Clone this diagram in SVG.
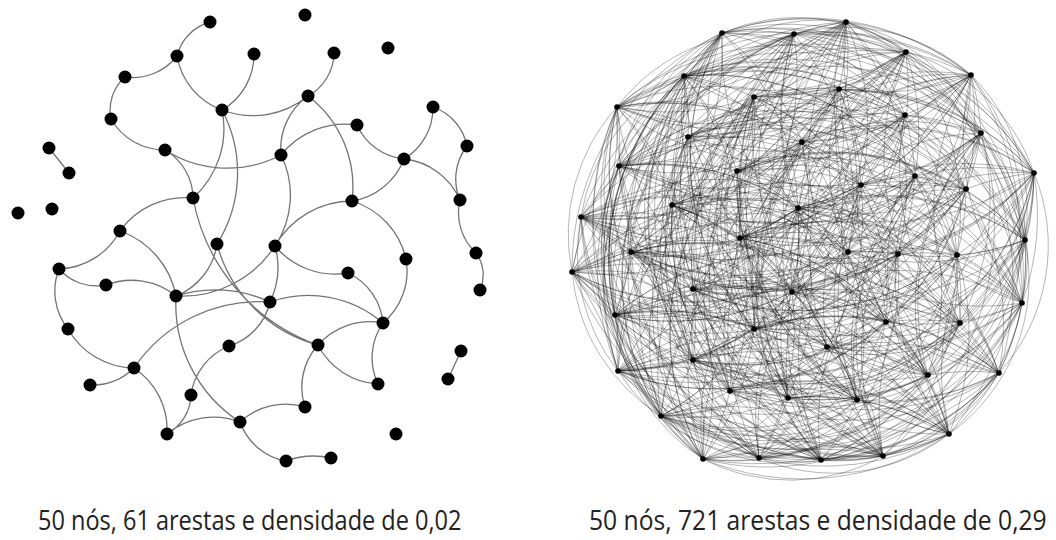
<svg xmlns="http://www.w3.org/2000/svg" width="1056" height="540" viewBox="0 0 1056 540">
<style>
.e{fill:none;stroke:#747474;stroke-width:1.3}
.n{fill:#000}
.f{fill:none;stroke:#000;stroke-opacity:.36;stroke-width:.8}
.m{fill:#000}
.t{font-family:"Open Sans","Noto Sans",sans-serif;font-size:28px;fill:#222}
</style>
<rect width="1056" height="540" fill="#fff"/>
<g id="left-edges">
<path class="e" d="M177 56A47 47 0 0 1 210 22M177 56A56 56 0 0 1 125 77M111 119A44 44 0 0 1 125 77M165 150A62 62 0 0 1 111 119M222 110A70 70 0 0 1 177 56M308 96A87 87 0 0 1 222 110M254 54A64 64 0 0 1 222 110M222 110A93 93 0 0 1 193 198M222 110A134 134 0 0 1 217 244M281 155A116 116 0 0 1 165 150M165 150A56 56 0 0 1 193 198M49 148L69 173M120 231A80 80 0 0 1 193 198M334 53A50 50 0 0 1 308 96M281 155A65 65 0 0 1 308 96M308 96A114 114 0 0 1 352 201M281 155A82 82 0 0 1 357 125M404 159A58 58 0 0 1 357 125M433 107A60 60 0 0 1 404 159M433 107A52 52 0 0 1 467 146M460 200A54 54 0 0 1 467 146M404 159A69 69 0 0 1 460 200M404 159A67 67 0 0 1 352 201M275 246A89 89 0 0 1 352 201M352 201A79 79 0 0 1 406 259M406 259A68 68 0 0 1 383 323M348 273A61 61 0 0 1 383 323M348 273A78 78 0 0 1 275 246M270 302A115 115 0 0 1 383 323M318 345A69 69 0 0 1 383 323M378 384A61 61 0 0 1 383 323M378 384A72 72 0 0 1 318 345M305 407A63 63 0 0 1 318 345M240 422A67 67 0 0 1 305 407M476 253A37 37 0 0 1 480 290M476 253A55 55 0 0 1 460 200M461 351L448 379M134 368A60 60 0 0 1 90 385M275 246A80 80 0 0 1 270 302M275 246A111 111 0 0 1 176 296M217 244A66 66 0 0 1 176 296M176 296A130 130 0 0 1 270 302M120 231A72 72 0 0 1 59 269M120 231A86 86 0 0 1 176 296M106 285A50 50 0 0 1 59 269M106 285A71 71 0 0 1 176 296M68 329A61 61 0 0 1 59 269M134 368A77 77 0 0 1 68 329M134 368A74 74 0 0 1 167 434M134 368A151 151 0 0 1 270 302M270 302A60 60 0 0 1 229 346M191 395A62 62 0 0 1 229 346M191 395A46 46 0 0 1 167 434M167 434A74 74 0 0 1 240 422M240 422A141 141 0 0 1 176 296M286 461A60 60 0 0 1 240 422M286 461A80 80 0 0 1 331 458M318 345A143 143 0 0 1 217 244M281 155A91 91 0 0 1 275 246M318 345A193 193 0 0 1 193 198"/>
</g>
<g id="left-nodes" class="n">
<g id="a1"><circle cx="210" cy="22" r="6.5"/></g>
<g id="a2"><circle cx="305" cy="15" r="6.5"/></g>
<g id="a3"><circle cx="177" cy="56" r="6.5"/></g>
<g id="a4"><circle cx="254" cy="54" r="6.5"/></g>
<g id="a5"><circle cx="334" cy="53" r="6.5"/></g>
<g id="a6"><circle cx="388" cy="48" r="6.5"/></g>
<g id="a7"><circle cx="125" cy="77" r="6.5"/></g>
<g id="a8"><circle cx="222" cy="110" r="6.5"/></g>
<g id="a9"><circle cx="308" cy="96" r="6.5"/></g>
<g id="a10"><circle cx="111" cy="119" r="6.5"/></g>
<g id="a11"><circle cx="433" cy="107" r="6.5"/></g>
<g id="a12"><circle cx="357" cy="125" r="6.5"/></g>
<g id="a13"><circle cx="49" cy="148" r="6.5"/></g>
<g id="a14"><circle cx="165" cy="150" r="6.5"/></g>
<g id="a15"><circle cx="281" cy="155" r="6.5"/></g>
<g id="a16"><circle cx="467" cy="146" r="6.5"/></g>
<g id="a17"><circle cx="69" cy="173" r="6.5"/></g>
<g id="a18"><circle cx="404" cy="159" r="6.5"/></g>
<g id="a19"><circle cx="18" cy="213" r="6.5"/></g>
<g id="a20"><circle cx="52" cy="209" r="6.5"/></g>
<g id="a21"><circle cx="193" cy="198" r="6.5"/></g>
<g id="a22"><circle cx="352" cy="201" r="6.5"/></g>
<g id="a23"><circle cx="460" cy="200" r="6.5"/></g>
<g id="a24"><circle cx="120" cy="231" r="6.5"/></g>
<g id="a25"><circle cx="217" cy="244" r="6.5"/></g>
<g id="a26"><circle cx="275" cy="246" r="6.5"/></g>
<g id="a27"><circle cx="406" cy="259" r="6.5"/></g>
<g id="a28"><circle cx="59" cy="269" r="6.5"/></g>
<g id="a29"><circle cx="476" cy="253" r="6.5"/></g>
<g id="a30"><circle cx="106" cy="285" r="6.5"/></g>
<g id="a31"><circle cx="176" cy="296" r="6.5"/></g>
<g id="a32"><circle cx="348" cy="273" r="6.5"/></g>
<g id="a33"><circle cx="480" cy="290" r="6.5"/></g>
<g id="a34"><circle cx="270" cy="302" r="6.5"/></g>
<g id="a35"><circle cx="68" cy="329" r="6.5"/></g>
<g id="a36"><circle cx="383" cy="323" r="6.5"/></g>
<g id="a37"><circle cx="229" cy="346" r="6.5"/></g>
<g id="a38"><circle cx="318" cy="345" r="6.5"/></g>
<g id="a39"><circle cx="461" cy="351" r="6.5"/></g>
<g id="a40"><circle cx="134" cy="368" r="6.5"/></g>
<g id="a41"><circle cx="90" cy="385" r="6.5"/></g>
<g id="a42"><circle cx="448" cy="379" r="6.5"/></g>
<g id="a43"><circle cx="378" cy="384" r="6.5"/></g>
<g id="a44"><circle cx="191" cy="395" r="6.5"/></g>
<g id="a45"><circle cx="305" cy="407" r="6.5"/></g>
<g id="a46"><circle cx="167" cy="434" r="6.5"/></g>
<g id="a47"><circle cx="240" cy="422" r="6.5"/></g>
<g id="a48"><circle cx="396" cy="434" r="6.5"/></g>
<g id="a49"><circle cx="286" cy="461" r="6.5"/></g>
<g id="a50"><circle cx="331" cy="458" r="6.5"/></g>
</g>
<g id="right-edges" class="f">
<path d="M722 33A260 260 0 0 1 794 34A260 260 0 0 1 846 22A260 260 0 0 1 906 52A260 260 0 0 1 971 75A260 260 0 0 1 684 76A260 260 0 0 1 754 97A260 260 0 0 1 839 89A260 260 0 0 1 617 107A260 260 0 0 1 905 115A260 260 0 0 1 688 137A260 260 0 0 1 802 142A260 260 0 0 1 981 133A260 260 0 0 1 619 166A260 260 0 0 1 737 171A260 260 0 0 1 861 185A260 260 0 0 1 915 176A260 260 0 0 1 966 189A260 260 0 0 1 1034 173A260 260 0 0 1 672 205A260 260 0 0 1 581 217A260 260 0 0 1 798 208A260 260 0 0 1 740 238A260 260 0 0 1 1025 240A260 260 0 0 1 848 252A260 260 0 0 1 898 254A260 260 0 0 1 957 255A260 260 0 0 1 572 272A260 260 0 0 1 631 252A260 260 0 0 1 693 289A260 260 0 0 1 792 292A260 260 0 0 1 1022 303A260 260 0 0 1 615 315A260 260 0 0 1 754 329A260 260 0 0 1 886 322A260 260 0 0 1 960 323A260 260 0 0 1 827 347A260 260 0 0 1 693 360A260 260 0 0 1 618 371A260 260 0 0 1 928 375A260 260 0 0 1 999 373A260 260 0 0 1 730 391A260 260 0 0 1 788 398A260 260 0 0 1 857 400A260 260 0 0 1 661 416A260 260 0 0 1 949 434A260 260 0 0 1 703 459A260 260 0 0 1 759 458A260 260 0 0 1 821 460A260 260 0 0 1 883 456A260 260 0 0 1 722 33"/>
<path d="M722 33A260 260 0 0 1 846 22A260 260 0 0 1 971 75A260 260 0 0 1 754 97A260 260 0 0 1 617 107A260 260 0 0 1 688 137A260 260 0 0 1 981 133A260 260 0 0 1 737 171A260 260 0 0 1 915 176A260 260 0 0 1 1034 173A260 260 0 0 1 581 217A260 260 0 0 1 740 238A260 260 0 0 1 848 252A260 260 0 0 1 957 255A260 260 0 0 1 631 252A260 260 0 0 1 792 292A260 260 0 0 1 615 315A260 260 0 0 1 886 322A260 260 0 0 1 827 347A260 260 0 0 1 618 371A260 260 0 0 1 999 373A260 260 0 0 1 788 398A260 260 0 0 1 661 416A260 260 0 0 1 703 459A260 260 0 0 1 821 460A260 260 0 0 1 722 33M794 34A260 260 0 0 1 906 52A260 260 0 0 1 684 76A260 260 0 0 1 839 89A260 260 0 0 1 905 115A260 260 0 0 1 802 142A260 260 0 0 1 619 166A260 260 0 0 1 861 185A260 260 0 0 1 966 189A260 260 0 0 1 672 205A260 260 0 0 1 798 208A260 260 0 0 1 1025 240A260 260 0 0 1 898 254A260 260 0 0 1 572 272A260 260 0 0 1 693 289A260 260 0 0 1 1022 303A260 260 0 0 1 754 329A260 260 0 0 1 960 323A260 260 0 0 1 693 360A260 260 0 0 1 928 375A260 260 0 0 1 730 391A260 260 0 0 1 857 400A260 260 0 0 1 949 434A260 260 0 0 1 759 458A260 260 0 0 1 883 456A260 260 0 0 1 794 34"/>
<path d="M722 33A260 260 0 0 1 906 52A260 260 0 0 1 754 97A260 260 0 0 1 905 115A260 260 0 0 1 981 133A260 260 0 0 1 861 185A260 260 0 0 1 1034 173A260 260 0 0 1 798 208A260 260 0 0 1 848 252A260 260 0 0 1 572 272A260 260 0 0 1 792 292A260 260 0 0 1 754 329A260 260 0 0 1 827 347A260 260 0 0 1 928 375A260 260 0 0 1 788 398A260 260 0 0 1 949 434A260 260 0 0 1 821 460A260 260 0 0 1 794 34A260 260 0 0 1 971 75A260 260 0 0 1 839 89A260 260 0 0 1 688 137A260 260 0 0 1 619 166A260 260 0 0 1 915 176A260 260 0 0 1 672 205A260 260 0 0 1 740 238A260 260 0 0 1 898 254A260 260 0 0 1 631 252A260 260 0 0 1 1022 303A260 260 0 0 1 886 322A260 260 0 0 1 693 360A260 260 0 0 1 999 373A260 260 0 0 1 857 400A260 260 0 0 1 703 459A260 260 0 0 1 883 456A260 260 0 0 1 846 22A260 260 0 0 1 684 76A260 260 0 0 1 617 107A260 260 0 0 1 802 142A260 260 0 0 1 737 171A260 260 0 0 1 966 189A260 260 0 0 1 581 217A260 260 0 0 1 1025 240A260 260 0 0 1 957 255A260 260 0 0 1 693 289A260 260 0 0 1 615 315A260 260 0 0 1 960 323A260 260 0 0 1 618 371A260 260 0 0 1 730 391A260 260 0 0 1 661 416A260 260 0 0 1 759 458A260 260 0 0 1 722 33"/>
<path d="M722 33A260 260 0 0 1 971 75A260 260 0 0 1 617 107A260 260 0 0 1 981 133A260 260 0 0 1 915 176A260 260 0 0 1 581 217A260 260 0 0 1 848 252A260 260 0 0 1 631 252A260 260 0 0 1 615 315A260 260 0 0 1 827 347A260 260 0 0 1 999 373A260 260 0 0 1 661 416A260 260 0 0 1 821 460A260 260 0 0 1 846 22A260 260 0 0 1 754 97A260 260 0 0 1 688 137A260 260 0 0 1 737 171A260 260 0 0 1 1034 173A260 260 0 0 1 740 238A260 260 0 0 1 957 255A260 260 0 0 1 792 292A260 260 0 0 1 886 322A260 260 0 0 1 618 371A260 260 0 0 1 788 398A260 260 0 0 1 703 459A260 260 0 0 1 722 33M794 34A260 260 0 0 1 684 76A260 260 0 0 1 905 115A260 260 0 0 1 619 166A260 260 0 0 1 966 189A260 260 0 0 1 798 208A260 260 0 0 1 898 254A260 260 0 0 1 693 289A260 260 0 0 1 754 329A260 260 0 0 1 693 360A260 260 0 0 1 730 391A260 260 0 0 1 949 434A260 260 0 0 1 883 456A260 260 0 0 1 906 52A260 260 0 0 1 839 89A260 260 0 0 1 802 142A260 260 0 0 1 861 185A260 260 0 0 1 672 205A260 260 0 0 1 1025 240A260 260 0 0 1 572 272A260 260 0 0 1 1022 303A260 260 0 0 1 960 323A260 260 0 0 1 928 375A260 260 0 0 1 857 400A260 260 0 0 1 759 458A260 260 0 0 1 794 34"/>
<path d="M722 33A260 260 0 0 1 684 76A260 260 0 0 1 688 137A260 260 0 0 1 861 185A260 260 0 0 1 581 217A260 260 0 0 1 898 254A260 260 0 0 1 792 292A260 260 0 0 1 960 323A260 260 0 0 1 999 373A260 260 0 0 1 949 434A260 260 0 0 1 722 33M794 34A260 260 0 0 1 754 97A260 260 0 0 1 802 142A260 260 0 0 1 915 176A260 260 0 0 1 798 208A260 260 0 0 1 957 255A260 260 0 0 1 1022 303A260 260 0 0 1 827 347A260 260 0 0 1 730 391A260 260 0 0 1 703 459A260 260 0 0 1 794 34M846 22A260 260 0 0 1 839 89A260 260 0 0 1 981 133A260 260 0 0 1 966 189A260 260 0 0 1 740 238A260 260 0 0 1 572 272A260 260 0 0 1 615 315A260 260 0 0 1 693 360A260 260 0 0 1 788 398A260 260 0 0 1 759 458A260 260 0 0 1 846 22M906 52A260 260 0 0 1 617 107A260 260 0 0 1 619 166A260 260 0 0 1 1034 173A260 260 0 0 1 1025 240A260 260 0 0 1 631 252A260 260 0 0 1 754 329A260 260 0 0 1 618 371A260 260 0 0 1 857 400A260 260 0 0 1 821 460A260 260 0 0 1 906 52M971 75A260 260 0 0 1 905 115A260 260 0 0 1 737 171A260 260 0 0 1 672 205A260 260 0 0 1 848 252A260 260 0 0 1 693 289A260 260 0 0 1 886 322A260 260 0 0 1 928 375A260 260 0 0 1 661 416A260 260 0 0 1 883 456A260 260 0 0 1 971 75"/>
<path d="M722 33A260 260 0 0 1 839 89A260 260 0 0 1 737 171A260 260 0 0 1 798 208A260 260 0 0 1 631 252A260 260 0 0 1 960 323A260 260 0 0 1 788 398A260 260 0 0 1 883 456A260 260 0 0 1 754 97A260 260 0 0 1 619 166A260 260 0 0 1 581 217A260 260 0 0 1 572 272A260 260 0 0 1 886 322A260 260 0 0 1 730 391A260 260 0 0 1 821 460A260 260 0 0 1 684 76A260 260 0 0 1 981 133A260 260 0 0 1 672 205A260 260 0 0 1 957 255A260 260 0 0 1 754 329A260 260 0 0 1 999 373A260 260 0 0 1 759 458A260 260 0 0 1 971 75A260 260 0 0 1 802 142A260 260 0 0 1 1034 173A260 260 0 0 1 898 254A260 260 0 0 1 615 315A260 260 0 0 1 928 375A260 260 0 0 1 703 459A260 260 0 0 1 906 52A260 260 0 0 1 688 137A260 260 0 0 1 966 189A260 260 0 0 1 848 252A260 260 0 0 1 1022 303A260 260 0 0 1 618 371A260 260 0 0 1 949 434A260 260 0 0 1 846 22A260 260 0 0 1 905 115A260 260 0 0 1 915 176A260 260 0 0 1 1025 240A260 260 0 0 1 792 292A260 260 0 0 1 693 360A260 260 0 0 1 661 416A260 260 0 0 1 794 34A260 260 0 0 1 617 107A260 260 0 0 1 861 185A260 260 0 0 1 740 238A260 260 0 0 1 693 289A260 260 0 0 1 827 347A260 260 0 0 1 857 400A260 260 0 0 1 722 33"/>
<path d="M722 33A260 260 0 0 1 905 115A260 260 0 0 1 1034 173A260 260 0 0 1 572 272A260 260 0 0 1 827 347A260 260 0 0 1 949 434A260 260 0 0 1 971 75A260 260 0 0 1 619 166A260 260 0 0 1 740 238A260 260 0 0 1 1022 303A260 260 0 0 1 999 373A260 260 0 0 1 883 456A260 260 0 0 1 617 107A260 260 0 0 1 966 189A260 260 0 0 1 957 255A260 260 0 0 1 960 323A260 260 0 0 1 661 416A260 260 0 0 1 906 52A260 260 0 0 1 981 133A260 260 0 0 1 798 208A260 260 0 0 1 792 292A260 260 0 0 1 928 375A260 260 0 0 1 821 460A260 260 0 0 1 839 89A260 260 0 0 1 915 176A260 260 0 0 1 898 254A260 260 0 0 1 886 322A260 260 0 0 1 857 400A260 260 0 0 1 846 22A260 260 0 0 1 802 142A260 260 0 0 1 581 217A260 260 0 0 1 693 289A260 260 0 0 1 618 371A260 260 0 0 1 759 458A260 260 0 0 1 754 97A260 260 0 0 1 861 185A260 260 0 0 1 848 252A260 260 0 0 1 754 329A260 260 0 0 1 788 398A260 260 0 0 1 794 34A260 260 0 0 1 688 137A260 260 0 0 1 672 205A260 260 0 0 1 631 252A260 260 0 0 1 693 360A260 260 0 0 1 703 459A260 260 0 0 1 684 76A260 260 0 0 1 737 171A260 260 0 0 1 1025 240A260 260 0 0 1 615 315A260 260 0 0 1 730 391A260 260 0 0 1 722 33"/>
<path d="M722 33A260 260 0 0 1 802 142A260 260 0 0 1 740 238A260 260 0 0 1 754 329A260 260 0 0 1 661 416A260 260 0 0 1 684 76A260 260 0 0 1 915 176A260 260 0 0 1 572 272A260 260 0 0 1 618 371A260 260 0 0 1 883 456A260 260 0 0 1 688 137A260 260 0 0 1 798 208A260 260 0 0 1 615 315A260 260 0 0 1 857 400A260 260 0 0 1 971 75A260 260 0 0 1 861 185A260 260 0 0 1 957 255A260 260 0 0 1 693 360A260 260 0 0 1 821 460A260 260 0 0 1 905 115A260 260 0 0 1 581 217A260 260 0 0 1 1022 303A260 260 0 0 1 788 398A260 260 0 0 1 906 52A260 260 0 0 1 737 171A260 260 0 0 1 898 254A260 260 0 0 1 827 347A260 260 0 0 1 759 458A260 260 0 0 1 617 107A260 260 0 0 1 672 205A260 260 0 0 1 792 292A260 260 0 0 1 730 391A260 260 0 0 1 846 22A260 260 0 0 1 619 166A260 260 0 0 1 848 252A260 260 0 0 1 960 323A260 260 0 0 1 703 459A260 260 0 0 1 839 89A260 260 0 0 1 1034 173A260 260 0 0 1 693 289A260 260 0 0 1 999 373A260 260 0 0 1 794 34A260 260 0 0 1 981 133A260 260 0 0 1 1025 240A260 260 0 0 1 886 322A260 260 0 0 1 949 434A260 260 0 0 1 754 97A260 260 0 0 1 966 189A260 260 0 0 1 631 252A260 260 0 0 1 928 375A260 260 0 0 1 722 33"/>
<path d="M722 33A260 260 0 0 1 619 166A260 260 0 0 1 957 255A260 260 0 0 1 928 375A260 260 0 0 1 846 22A260 260 0 0 1 861 185A260 260 0 0 1 631 252A260 260 0 0 1 730 391A260 260 0 0 1 971 75A260 260 0 0 1 966 189A260 260 0 0 1 792 292A260 260 0 0 1 857 400A260 260 0 0 1 754 97A260 260 0 0 1 672 205A260 260 0 0 1 615 315A260 260 0 0 1 949 434A260 260 0 0 1 617 107A260 260 0 0 1 798 208A260 260 0 0 1 886 322A260 260 0 0 1 759 458A260 260 0 0 1 688 137A260 260 0 0 1 1025 240A260 260 0 0 1 827 347A260 260 0 0 1 883 456A260 260 0 0 1 981 133A260 260 0 0 1 898 254A260 260 0 0 1 618 371A260 260 0 0 1 794 34A260 260 0 0 1 737 171A260 260 0 0 1 572 272A260 260 0 0 1 999 373A260 260 0 0 1 906 52A260 260 0 0 1 915 176A260 260 0 0 1 693 289A260 260 0 0 1 788 398A260 260 0 0 1 684 76A260 260 0 0 1 1034 173A260 260 0 0 1 1022 303A260 260 0 0 1 661 416A260 260 0 0 1 839 89A260 260 0 0 1 581 217A260 260 0 0 1 754 329A260 260 0 0 1 703 459A260 260 0 0 1 905 115A260 260 0 0 1 740 238A260 260 0 0 1 960 323A260 260 0 0 1 821 460A260 260 0 0 1 802 142A260 260 0 0 1 848 252A260 260 0 0 1 693 360A260 260 0 0 1 722 33"/>
<path d="M722 33A260 260 0 0 1 966 189A260 260 0 0 1 886 322A260 260 0 0 1 794 34A260 260 0 0 1 1034 173A260 260 0 0 1 960 323A260 260 0 0 1 846 22A260 260 0 0 1 672 205A260 260 0 0 1 827 347A260 260 0 0 1 906 52A260 260 0 0 1 581 217A260 260 0 0 1 693 360A260 260 0 0 1 971 75A260 260 0 0 1 798 208A260 260 0 0 1 618 371A260 260 0 0 1 684 76A260 260 0 0 1 740 238A260 260 0 0 1 928 375A260 260 0 0 1 754 97A260 260 0 0 1 1025 240A260 260 0 0 1 999 373A260 260 0 0 1 839 89A260 260 0 0 1 848 252A260 260 0 0 1 730 391A260 260 0 0 1 617 107A260 260 0 0 1 898 254A260 260 0 0 1 788 398A260 260 0 0 1 905 115A260 260 0 0 1 957 255A260 260 0 0 1 857 400A260 260 0 0 1 688 137A260 260 0 0 1 572 272A260 260 0 0 1 661 416A260 260 0 0 1 802 142A260 260 0 0 1 631 252A260 260 0 0 1 949 434A260 260 0 0 1 981 133A260 260 0 0 1 693 289A260 260 0 0 1 703 459A260 260 0 0 1 619 166A260 260 0 0 1 792 292A260 260 0 0 1 759 458A260 260 0 0 1 737 171A260 260 0 0 1 1022 303A260 260 0 0 1 821 460A260 260 0 0 1 861 185A260 260 0 0 1 615 315A260 260 0 0 1 883 456A260 260 0 0 1 915 176A260 260 0 0 1 754 329A260 260 0 0 1 722 33"/>
<path d="M722 33A260 260 0 0 1 672 205A260 260 0 0 1 618 371A260 260 0 0 1 839 89A260 260 0 0 1 957 255A260 260 0 0 1 949 434A260 260 0 0 1 737 171A260 260 0 0 1 754 329A260 260 0 0 1 846 22A260 260 0 0 1 798 208A260 260 0 0 1 999 373A260 260 0 0 1 905 115A260 260 0 0 1 631 252A260 260 0 0 1 759 458A260 260 0 0 1 915 176A260 260 0 0 1 960 323A260 260 0 0 1 971 75A260 260 0 0 1 1025 240A260 260 0 0 1 788 398A260 260 0 0 1 802 142A260 260 0 0 1 792 292A260 260 0 0 1 883 456A260 260 0 0 1 1034 173A260 260 0 0 1 693 360A260 260 0 0 1 754 97A260 260 0 0 1 898 254A260 260 0 0 1 661 416A260 260 0 0 1 619 166A260 260 0 0 1 615 315A260 260 0 0 1 794 34A260 260 0 0 1 581 217A260 260 0 0 1 928 375A260 260 0 0 1 617 107A260 260 0 0 1 572 272A260 260 0 0 1 703 459A260 260 0 0 1 861 185A260 260 0 0 1 886 322A260 260 0 0 1 906 52A260 260 0 0 1 740 238A260 260 0 0 1 730 391A260 260 0 0 1 688 137A260 260 0 0 1 693 289A260 260 0 0 1 821 460A260 260 0 0 1 966 189A260 260 0 0 1 827 347A260 260 0 0 1 684 76A260 260 0 0 1 848 252A260 260 0 0 1 857 400A260 260 0 0 1 981 133A260 260 0 0 1 1022 303A260 260 0 0 1 722 33"/>
<path d="M722 33A260 260 0 0 1 798 208A260 260 0 0 1 788 398A260 260 0 0 1 619 166A260 260 0 0 1 886 322A260 260 0 0 1 684 76A260 260 0 0 1 957 255A260 260 0 0 1 759 458A260 260 0 0 1 1034 173A260 260 0 0 1 928 375A260 260 0 0 1 688 137A260 260 0 0 1 1022 303A260 260 0 0 1 846 22A260 260 0 0 1 1025 240A260 260 0 0 1 661 416A260 260 0 0 1 861 185A260 260 0 0 1 827 347A260 260 0 0 1 839 89A260 260 0 0 1 631 252A260 260 0 0 1 883 456A260 260 0 0 1 581 217A260 260 0 0 1 730 391A260 260 0 0 1 981 133A260 260 0 0 1 754 329A260 260 0 0 1 971 75A260 260 0 0 1 898 254A260 260 0 0 1 703 459A260 260 0 0 1 966 189A260 260 0 0 1 618 371A260 260 0 0 1 905 115A260 260 0 0 1 792 292A260 260 0 0 1 794 34A260 260 0 0 1 740 238A260 260 0 0 1 857 400A260 260 0 0 1 737 171A260 260 0 0 1 960 323A260 260 0 0 1 754 97A260 260 0 0 1 572 272A260 260 0 0 1 821 460A260 260 0 0 1 672 205A260 260 0 0 1 999 373A260 260 0 0 1 802 142A260 260 0 0 1 615 315A260 260 0 0 1 906 52A260 260 0 0 1 848 252A260 260 0 0 1 949 434A260 260 0 0 1 915 176A260 260 0 0 1 693 360A260 260 0 0 1 617 107A260 260 0 0 1 693 289A260 260 0 0 1 722 33"/>
<path d="M722 33A260 260 0 0 1 1025 240A260 260 0 0 1 703 459A260 260 0 0 1 672 205A260 260 0 0 1 788 398A260 260 0 0 1 861 185A260 260 0 0 1 618 371A260 260 0 0 1 802 142A260 260 0 0 1 886 322A260 260 0 0 1 839 89A260 260 0 0 1 792 292A260 260 0 0 1 906 52A260 260 0 0 1 957 255A260 260 0 0 1 883 456A260 260 0 0 1 740 238A260 260 0 0 1 949 434A260 260 0 0 1 1034 173A260 260 0 0 1 730 391A260 260 0 0 1 737 171A260 260 0 0 1 693 360A260 260 0 0 1 688 137A260 260 0 0 1 754 329A260 260 0 0 1 754 97A260 260 0 0 1 693 289A260 260 0 0 1 846 22A260 260 0 0 1 898 254A260 260 0 0 1 821 460A260 260 0 0 1 798 208A260 260 0 0 1 661 416A260 260 0 0 1 966 189A260 260 0 0 1 999 373A260 260 0 0 1 619 166A260 260 0 0 1 827 347A260 260 0 0 1 905 115A260 260 0 0 1 615 315A260 260 0 0 1 684 76A260 260 0 0 1 631 252A260 260 0 0 1 794 34A260 260 0 0 1 848 252A260 260 0 0 1 759 458A260 260 0 0 1 581 217A260 260 0 0 1 857 400A260 260 0 0 1 915 176A260 260 0 0 1 928 375A260 260 0 0 1 981 133A260 260 0 0 1 960 323A260 260 0 0 1 617 107A260 260 0 0 1 1022 303A260 260 0 0 1 971 75A260 260 0 0 1 572 272A260 260 0 0 1 722 33"/>
<path d="M722 33A260 260 0 0 1 617 107A260 260 0 0 1 915 176A260 260 0 0 1 848 252A260 260 0 0 1 615 315A260 260 0 0 1 999 373A260 260 0 0 1 821 460A260 260 0 0 1 754 97A260 260 0 0 1 737 171A260 260 0 0 1 740 238A260 260 0 0 1 792 292A260 260 0 0 1 618 371A260 260 0 0 1 703 459A260 260 0 0 1 971 75A260 260 0 0 1 981 133A260 260 0 0 1 581 217A260 260 0 0 1 631 252A260 260 0 0 1 827 347A260 260 0 0 1 661 416A260 260 0 0 1 846 22A260 260 0 0 1 688 137A260 260 0 0 1 1034 173A260 260 0 0 1 957 255A260 260 0 0 1 886 322A260 260 0 0 1 788 398A260 260 0 0 1 722 33M794 34A260 260 0 0 1 905 115A260 260 0 0 1 966 189A260 260 0 0 1 898 254A260 260 0 0 1 754 329A260 260 0 0 1 730 391A260 260 0 0 1 883 456A260 260 0 0 1 839 89A260 260 0 0 1 861 185A260 260 0 0 1 1025 240A260 260 0 0 1 1022 303A260 260 0 0 1 928 375A260 260 0 0 1 759 458A260 260 0 0 1 684 76A260 260 0 0 1 619 166A260 260 0 0 1 798 208A260 260 0 0 1 693 289A260 260 0 0 1 693 360A260 260 0 0 1 949 434A260 260 0 0 1 906 52A260 260 0 0 1 802 142A260 260 0 0 1 672 205A260 260 0 0 1 572 272A260 260 0 0 1 960 323A260 260 0 0 1 857 400A260 260 0 0 1 794 34"/>
<path d="M846 22A190 190 0 0 1 981 133M906 52A190 190 0 0 1 1034 173M971 75A190 190 0 0 1 1025 240M981 133A190 190 0 0 1 1022 303M1034 173A190 190 0 0 1 999 373M1025 240A190 190 0 0 1 949 434M1022 303A190 190 0 0 1 883 456M999 373A190 190 0 0 1 821 460M949 434A190 190 0 0 1 759 458M883 456A190 190 0 0 1 703 459M821 460A190 190 0 0 1 661 416M759 458A190 190 0 0 1 618 371M703 459A190 190 0 0 1 615 315M661 416A190 190 0 0 1 572 272M618 371A190 190 0 0 1 581 217M615 315A190 190 0 0 1 619 166M572 272A190 190 0 0 1 617 107M581 217A190 190 0 0 1 684 76M619 166A190 190 0 0 1 722 33M617 107A190 190 0 0 1 794 34M684 76A190 190 0 0 1 846 22M722 33A190 190 0 0 1 906 52M794 34A190 190 0 0 1 971 75"/>
<path d="M846 22A300 300 0 0 1 1022 303M906 52A300 300 0 0 1 999 373M971 75A300 300 0 0 1 949 434M981 133A300 300 0 0 1 883 456M1034 173A300 300 0 0 1 821 460M1025 240A300 300 0 0 1 759 458M1022 303A300 300 0 0 1 703 459M999 373A300 300 0 0 1 661 416M949 434A300 300 0 0 1 618 371M883 456A300 300 0 0 1 615 315M821 460A300 300 0 0 1 572 272M759 458A300 300 0 0 1 581 217M703 459A300 300 0 0 1 619 166M661 416A300 300 0 0 1 617 107M618 371A300 300 0 0 1 684 76M615 315A300 300 0 0 1 722 33M572 272A300 300 0 0 1 794 34M581 217A300 300 0 0 1 846 22M619 166A300 300 0 0 1 906 52M617 107A300 300 0 0 1 971 75M684 76A300 300 0 0 1 981 133M722 33A300 300 0 0 1 1034 173M794 34A300 300 0 0 1 1025 240"/>
</g>
<g id="right-nodes" class="m">
<g id="b1"><circle cx="722" cy="33" r="2.8"/></g>
<g id="b2"><circle cx="794" cy="34" r="2.8"/></g>
<g id="b3"><circle cx="846" cy="22" r="2.8"/></g>
<g id="b4"><circle cx="906" cy="52" r="2.8"/></g>
<g id="b5"><circle cx="971" cy="75" r="2.8"/></g>
<g id="b6"><circle cx="684" cy="76" r="2.8"/></g>
<g id="b7"><circle cx="754" cy="97" r="2.8"/></g>
<g id="b8"><circle cx="839" cy="89" r="2.8"/></g>
<g id="b9"><circle cx="617" cy="107" r="2.8"/></g>
<g id="b10"><circle cx="905" cy="115" r="2.8"/></g>
<g id="b11"><circle cx="688" cy="137" r="2.8"/></g>
<g id="b12"><circle cx="802" cy="142" r="2.8"/></g>
<g id="b13"><circle cx="981" cy="133" r="2.8"/></g>
<g id="b14"><circle cx="619" cy="166" r="2.8"/></g>
<g id="b15"><circle cx="737" cy="171" r="2.8"/></g>
<g id="b16"><circle cx="861" cy="185" r="2.8"/></g>
<g id="b17"><circle cx="915" cy="176" r="2.8"/></g>
<g id="b18"><circle cx="966" cy="189" r="2.8"/></g>
<g id="b19"><circle cx="1034" cy="173" r="2.8"/></g>
<g id="b20"><circle cx="672" cy="205" r="2.8"/></g>
<g id="b21"><circle cx="581" cy="217" r="2.8"/></g>
<g id="b22"><circle cx="798" cy="208" r="2.8"/></g>
<g id="b23"><circle cx="740" cy="238" r="2.8"/></g>
<g id="b24"><circle cx="1025" cy="240" r="2.8"/></g>
<g id="b25"><circle cx="848" cy="252" r="2.8"/></g>
<g id="b26"><circle cx="898" cy="254" r="2.8"/></g>
<g id="b27"><circle cx="957" cy="255" r="2.8"/></g>
<g id="b28"><circle cx="572" cy="272" r="2.8"/></g>
<g id="b29"><circle cx="631" cy="252" r="2.8"/></g>
<g id="b30"><circle cx="693" cy="289" r="2.8"/></g>
<g id="b31"><circle cx="792" cy="292" r="2.8"/></g>
<g id="b32"><circle cx="1022" cy="303" r="2.8"/></g>
<g id="b33"><circle cx="615" cy="315" r="2.8"/></g>
<g id="b34"><circle cx="754" cy="329" r="2.8"/></g>
<g id="b35"><circle cx="886" cy="322" r="2.8"/></g>
<g id="b36"><circle cx="960" cy="323" r="2.8"/></g>
<g id="b37"><circle cx="827" cy="347" r="2.8"/></g>
<g id="b38"><circle cx="693" cy="360" r="2.8"/></g>
<g id="b39"><circle cx="618" cy="371" r="2.8"/></g>
<g id="b40"><circle cx="928" cy="375" r="2.8"/></g>
<g id="b41"><circle cx="999" cy="373" r="2.8"/></g>
<g id="b42"><circle cx="730" cy="391" r="2.8"/></g>
<g id="b43"><circle cx="788" cy="398" r="2.8"/></g>
<g id="b44"><circle cx="857" cy="400" r="2.8"/></g>
<g id="b45"><circle cx="661" cy="416" r="2.8"/></g>
<g id="b46"><circle cx="949" cy="434" r="2.8"/></g>
<g id="b47"><circle cx="703" cy="459" r="2.8"/></g>
<g id="b48"><circle cx="759" cy="458" r="2.8"/></g>
<g id="b49"><circle cx="821" cy="460" r="2.8"/></g>
<g id="b50"><circle cx="883" cy="456" r="2.8"/></g>
</g>
<g id="labels">
<text class="t" transform="translate(38 530) scale(0.84 1)">50 nós, 61 arestas e densidade de 0,02</text>
<text class="t" transform="translate(589 530) scale(0.88 1)">50 nós, 721 arestas e densidade de 0,29</text>
</g>
</svg>
